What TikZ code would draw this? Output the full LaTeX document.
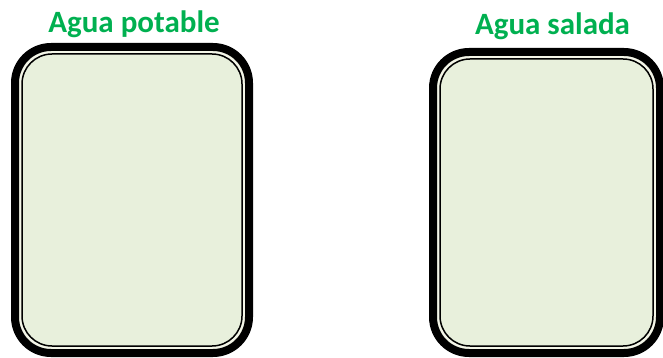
\documentclass[tikz,border=0pt]{standalone}
\usepackage{fontspec}
\setmainfont{Carlito}
\usepackage{tikz}
\usetikzlibrary{positioning}
\definecolor{titlegreen}{RGB}{0,176,80}
\definecolor{softfill}{RGB}{232,240,220}
\definecolor{softcream}{RGB}{244,246,232}
\tikzset{
  vaso/.style={rectangle, rounded corners=36pt, draw=black, line width=8pt, fill=softcream, inner sep=0pt, outer sep=0pt},
  vasoin/.style={rectangle, rounded corners=30pt, draw=black, line width=1.5pt, fill=softfill, inner sep=0pt, outer sep=0pt},
  titulo/.style={font=\fontsize{31}{36}\selectfont\bfseries, text=titlegreen, anchor=base, inner sep=0pt}
}
\begin{document}
\begin{tikzpicture}[x=1pt, y=-1pt]
\useasboundingbox (0,0) rectangle (663,358);
\node[vaso, minimum width=234pt, minimum height=306pt] (potable) at (132,200) {};
\node[vasoin, minimum width=220pt, minimum height=292pt] (potablein) at (potable.center) {};
\node[vaso, minimum width=227pt, minimum height=301pt] (salada) at (546.5,202.5) {};
\node[vasoin, minimum width=213pt, minimum height=287pt] (saladain) at (salada.center) {};
\node[titulo] (tpotable) at (134,33) {Agua potable};
\node[titulo] (tsalada) at (552.5,35) {Agua salada};
\end{tikzpicture}
\end{document}
